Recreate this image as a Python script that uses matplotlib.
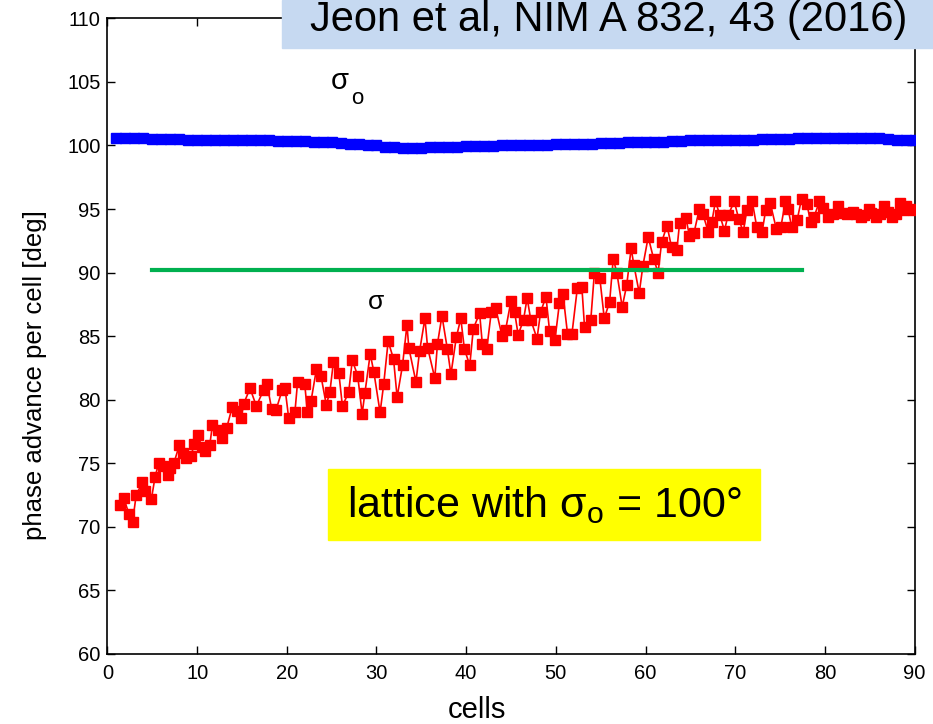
"""Phase advance per cell: sigma vs sigma_o (Jeon et al, NIM A 832, 43)."""
import matplotlib
matplotlib.use("Agg")
import matplotlib.pyplot as plt
from matplotlib.patches import Rectangle

plt.rcParams["font.family"] = ["Liberation Sans", "DejaVu Sans"]
plt.rcParams["mathtext.fontset"] = "custom"
plt.rcParams["mathtext.rm"] = "Liberation Sans"

# depressed phase advance sigma (red)
sigma_cells = [
    1.4, 1.8, 2.4, 2.8, 3.2, 3.9, 4.2, 4.9, 5.3, 5.7, 6.2, 6.7, 7.0, 7.4, 8.0, 8.4,
    8.8, 9.3, 9.7, 10.1, 10.5, 10.9, 11.4, 11.7, 12.3, 12.8, 13.3, 13.9, 14.4, 14.9,
    15.2, 15.9, 16.6, 17.4, 17.8, 18.3, 18.8, 19.5, 19.8, 20.2, 20.9, 21.2, 22.0,
    22.3, 22.7, 23.3, 23.8, 24.4, 24.8, 25.2, 25.8, 26.2, 26.9, 27.3, 27.9, 28.4,
    28.7, 29.3, 29.7, 30.4, 30.8, 31.3, 31.9, 32.3, 32.9, 33.4, 33.6, 34.4, 34.8,
    35.4, 35.7, 36.5, 36.8, 37.3, 37.9, 38.3, 38.9, 39.4, 39.8, 40.4, 40.8, 41.5,
    41.8, 42.3, 42.8, 43.3, 44.0, 44.4, 45.0, 45.4, 45.8, 46.4, 46.8, 47.2, 47.9,
    48.3, 48.9, 49.3, 49.9, 50.4, 50.8, 51.3, 51.8, 52.4, 52.9, 53.2, 53.9, 54.3,
    54.9, 55.4, 56.0, 56.4, 56.8, 57.4, 57.9, 58.4, 58.7, 59.3, 59.7, 60.3, 60.9,
    61.4, 61.8, 62.4, 62.9, 63.5, 63.8, 64.5, 64.9, 65.4, 66.0, 66.4, 67.0, 67.4,
    67.8, 68.3, 68.8, 69.2, 69.9, 70.4, 70.9, 71.3, 71.9, 72.4, 73.0, 73.4, 73.9,
    74.6, 75.1, 75.6, 75.9, 76.3, 76.9, 77.4, 78.0, 78.4, 78.8, 79.4, 79.8, 80.4,
    80.9, 81.5, 82.0, 82.5, 83.1, 83.5, 84.0, 84.4, 84.9, 85.2, 85.7, 86.1, 86.6,
    87.0, 87.5, 87.9, 88.4, 88.7, 89.1, 89.5, 89.8,
]
sigma_deg = [
    71.7, 72.3, 71.0, 70.4, 72.5, 73.5, 72.8, 72.2, 73.9, 75.0, 74.8, 74.1, 74.6, 75.0,
    76.4, 75.8, 75.4, 75.6, 76.5, 77.2, 76.3, 76.0, 76.4, 78.0, 77.6, 77.0, 77.8,
    79.4, 79.1, 78.6, 79.7, 80.9, 79.5, 80.75, 81.2, 79.3, 79.2, 80.8, 80.9, 78.6,
    79.0, 81.4, 81.2, 79.0, 79.9, 82.4, 81.9, 79.6, 80.6, 83.0, 82.1, 79.5, 80.6,
    83.1, 81.9, 78.9, 80.5, 83.6, 82.2, 79.0, 81.2, 84.6, 83.2, 80.2, 82.7, 85.9,
    84.1, 81.4, 83.8, 86.4, 84.1, 81.7, 84.4, 86.6, 84.0, 82.0, 84.9, 86.4, 84.0,
    82.7, 85.6, 86.8, 84.4, 84.0, 86.9, 87.2, 85.0, 85.5, 87.8, 86.9, 85.1, 86.3,
    88.0, 86.3, 84.8, 86.9, 88.1, 85.4, 84.7, 87.6, 88.3, 85.2, 85.2, 88.8, 88.9,
    85.7, 86.3, 90.0, 89.6, 86.4, 87.7, 91.1, 90.0, 87.3, 89.0, 91.9, 90.6, 88.4,
    90.5, 92.8, 91.1, 90.0, 92.4, 93.7, 92.0, 91.8, 93.9, 94.3, 92.9, 93.1, 95.0,
    94.6, 93.2, 94.0, 95.6, 94.5, 93.3, 94.5, 95.6, 94.2, 93.2, 94.9, 95.6, 93.6,
    93.2, 94.9, 95.5, 93.4, 93.6, 95.6, 95.0, 93.6, 94.1, 95.8, 95.4, 94.0, 94.4,
    95.6, 95.1, 94.4, 94.6, 95.2, 94.7, 94.6, 94.8, 94.6, 94.4, 94.5, 95.0, 94.7,
    94.4, 94.6, 95.2, 94.8, 94.4, 94.6, 95.5, 94.9, 95.2, 95.0, 94.9,
]

# bare lattice phase advance sigma_o (blue), one value per cell
sigma0_cells = list(range(1, 91))
sigma0_deg = [
    100.55, 100.55, 100.55, 100.55, 100.5, 100.5, 100.5, 100.5, 100.45, 100.45,
    100.4, 100.4, 100.4, 100.4, 100.4, 100.4, 100.4, 100.4, 100.35, 100.35,
    100.35, 100.35, 100.3, 100.3, 100.25, 100.2, 100.15, 100.1, 100.05, 100.0,
    99.9, 99.85, 99.8, 99.8, 99.8, 99.85, 99.9, 99.9, 99.9, 99.95,
    99.95, 99.95, 99.95, 100.0, 100.0, 100.05, 100.05, 100.05, 100.05, 100.1,
    100.1, 100.1, 100.15, 100.15, 100.2, 100.2, 100.2, 100.25, 100.25, 100.3,
    100.3, 100.3, 100.35, 100.35, 100.4, 100.4, 100.4, 100.4, 100.45, 100.45,
    100.45, 100.45, 100.5, 100.5, 100.5, 100.5, 100.55, 100.55, 100.55, 100.55,
    100.55, 100.55, 100.55, 100.55, 100.55, 100.55, 100.5, 100.45, 100.45, 100.45,
]

GREEN_X = [5.0, 77.5]
GREEN_Y = [90.2, 90.2]

fig = plt.figure(figsize=(9.33, 7.24), dpi=100)
ax = fig.add_axes([0.1152, 0.0967, 0.8650, 0.8780])

ax.plot(sigma0_cells, sigma0_deg, color="#0000ff", marker="s", ms=7.5, lw=2,
        mec="#0000ff", zorder=3)
ax.plot(sigma_cells, sigma_deg, color="#ff0000", marker="s", ms=7, lw=1.2,
        mec="#ff0000", zorder=3)
ax.plot(GREEN_X, GREEN_Y, color="#00b050", lw=3, zorder=4)

ax.set_xlim(0, 90)
ax.set_ylim(60, 110)
ax.set_xticks(range(0, 91, 10))
ax.set_yticks(range(60, 111, 5))
ax.tick_params(direction="in", top=True, right=True, length=6, width=1,
               labelsize=14.5)
ax.tick_params(axis="x", pad=7)
ax.tick_params(axis="y", pad=5)
for s in ax.spines.values():
    s.set_linewidth(1.2)
ax.set_xlabel("cells", fontsize=21, va="center", ha="center")
ax.xaxis.set_label_coords(0.458, -0.088)
ax.set_ylabel("phase advance per cell [deg]", fontsize=18.5, va="center", ha="center")
ax.yaxis.set_label_coords(-0.09, 0.439)

ax.text(25.9, 105.1, "σ", fontsize=21, ha="center", va="center")
ax.text(27.8, 103.7, "o", fontsize=16, ha="center", va="center")
ax.text(29.9, 87.7, "σ", fontsize=19, ha="center", va="center")

# reference box at the top
fig.patches.append(Rectangle((282 / 933, 1 - 48 / 724), 1, 48 / 724,
                             transform=fig.transFigure, color="#c6d9f1", zorder=5))
fig.text(0.652, 1 - 20 / 724, "Jeon et al, NIM A 832, 43 (2016)", fontsize=30,
         ha="center", va="center", zorder=6)

# yellow note box
fig.patches.append(Rectangle((328 / 933, 1 - 540 / 724), 432 / 933, 71 / 724,
                             transform=fig.transFigure, color="#ffff00", zorder=5))
fig.text(0.584, 1 - 505 / 724, r"lattice with σ$_{\rm o}$ = 100°", fontsize=31,
         ha="center", va="center", zorder=6)

fig.savefig("out.png", dpi=100)
